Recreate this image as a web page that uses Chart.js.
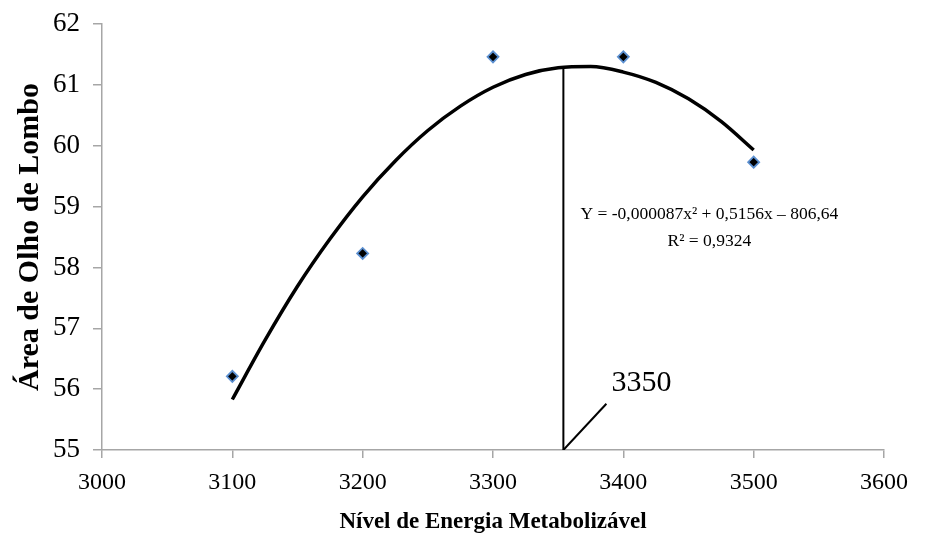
<!DOCTYPE html>
<html>
<head>
<meta charset="utf-8">
<script src="https://cdn.jsdelivr.net/npm/chart.js@4.4.0/dist/chart.umd.min.js"></script>
<style>
  html, body { margin: 0; padding: 0; background: #fff; }
  #wrap { width: 934px; height: 537px; }
</style>
</head>
<body>
<div id="wrap"><canvas id="chart" width="934" height="537"></canvas></div>
<script>
// --- Data ---
const energyLevels = [3100, 3200, 3300, 3400, 3500];
const loinArea = [56.21, 58.23, 61.46, 61.46, 59.73];

// fitted curve as it appears in the figure
const curveX = [3100, 3125, 3150, 3175, 3200, 3225, 3250, 3275, 3300, 3325, 3350, 3375, 3400, 3425, 3450, 3475, 3500];
const curveY = [55.83, 56.80, 57.69, 58.47, 59.16, 59.75, 60.25, 60.65, 60.96, 61.17, 61.28, 61.30, 61.21, 61.04, 60.77, 60.40, 59.93];

// optimum marker (vertical line + leader)
const optimumX = [3354, 3354];
const optimumY = [55, 61.29];
const leaderX = [3354, 3387];
const leaderY = [55, 55.76];

const xTicks = [3000, 3100, 3200, 3300, 3400, 3500, 3600];
const yTicks = [55, 56, 57, 58, 59, 60, 61, 62];

const equationText = 'Y = -0,000087x\u00B2 + 0,5156x \u2013 806,64';
const r2Text = 'R\u00B2 = 0,9324';
const optimumLabel = '3350';

const SERIF = '"Liberation Serif", "Times New Roman", serif';
const AXIS_GREY = '#a6a6a6';

const zip = (xs, ys) => xs.map((x, i) => ({ x: x, y: ys[i] }));

// --- text annotations drawn at data coordinates ---
const notesPlugin = {
    id: 'notes',
    afterDatasetsDraw(chart) {
        const ctx = chart.ctx;
        const xs = chart.scales.x, ys = chart.scales.y;
        ctx.save();
        ctx.fillStyle = '#000';
        ctx.textBaseline = 'middle';

        ctx.font = '17.5px ' + SERIF;
        ctx.textAlign = 'center';
        ctx.fillText(equationText, xs.getPixelForValue(3466), ys.getPixelForValue(58.87));
        ctx.fillText(r2Text, xs.getPixelForValue(3466), ys.getPixelForValue(58.43));

        ctx.font = '30px ' + SERIF;
        ctx.textAlign = 'left';
        ctx.fillText(optimumLabel, xs.getPixelForValue(3391), ys.getPixelForValue(56.10));
        ctx.restore();
    }
};

new Chart(document.getElementById('chart').getContext('2d'), {
    type: 'scatter',
    data: {
        datasets: [
            {
                label: 'curve',
                data: zip(curveX, curveY),
                showLine: true,
                borderColor: '#000',
                borderWidth: 3.5,
                pointRadius: 0,
                tension: 0.4,
                cubicInterpolationMode: 'monotone',
                order: 2
            },
            {
                label: 'optimum',
                data: zip(optimumX, optimumY),
                showLine: true,
                borderColor: '#000',
                borderWidth: 2,
                pointRadius: 0,
                order: 3
            },
            {
                label: 'leader',
                data: zip(leaderX, leaderY),
                showLine: true,
                borderColor: '#000',
                borderWidth: 2,
                pointRadius: 0,
                order: 3
            },
            {
                label: 'Área de Olho de Lombo',
                data: zip(energyLevels, loinArea),
                showLine: false,
                pointStyle: 'rectRot',
                pointRadius: 5.5,
                backgroundColor: '#000',
                borderColor: '#5b8fd0',
                borderWidth: 1.8,
                order: 1
            }
        ]
    },
    options: {
        responsive: false,
        animation: false,
        layout: { padding: { top: 24, right: 50, left: 0, bottom: 0 } },
        plugins: {
            legend: { display: false },
            tooltip: { enabled: false }
        },
        scales: {
            x: {
                type: 'linear',
                min: 3000,
                max: 3600,
                afterBuildTicks: s => { s.ticks = xTicks.map(v => ({ value: v })); },
                afterFit: s => { s.height = 87; s.paddingLeft = 0; s.paddingRight = 0; },
                border: { color: AXIS_GREY, width: 1.5 },
                grid: { drawOnChartArea: false, tickLength: 8, color: AXIS_GREY, lineWidth: 1.5 },
                ticks: {
                    color: '#000',
                    font: { family: SERIF, size: 24 },
                    padding: 10,
                    maxRotation: 0,
                    callback: v => String(v)
                },
                title: {
                    display: true,
                    text: 'Nível de Energia Metabolizável',
                    color: '#000',
                    font: { family: SERIF, size: 23, weight: 'bold' },
                    padding: { top: 0, bottom: 1 }
                }
            },
            y: {
                min: 55,
                max: 62,
                afterBuildTicks: s => { s.ticks = yTicks.map(v => ({ value: v })); },
                afterFit: s => { s.width = 102; s.paddingTop = 0; s.paddingBottom = 0; },
                border: { color: AXIS_GREY, width: 1.5 },
                grid: { drawOnChartArea: false, tickLength: 9, color: AXIS_GREY, lineWidth: 1.5 },
                ticks: {
                    color: '#000',
                    font: { family: SERIF, size: 27 },
                    padding: 13,
                    callback: v => String(v)
                },
                title: {
                    display: true,
                    text: 'Área de Olho de Lombo',
                    color: '#000',
                    font: { family: SERIF, size: 30, weight: 'bold' },
                    padding: { top: 12, bottom: 0 }
                }
            }
        }
    },
    plugins: [notesPlugin]
});
</script>
</body>
</html>
